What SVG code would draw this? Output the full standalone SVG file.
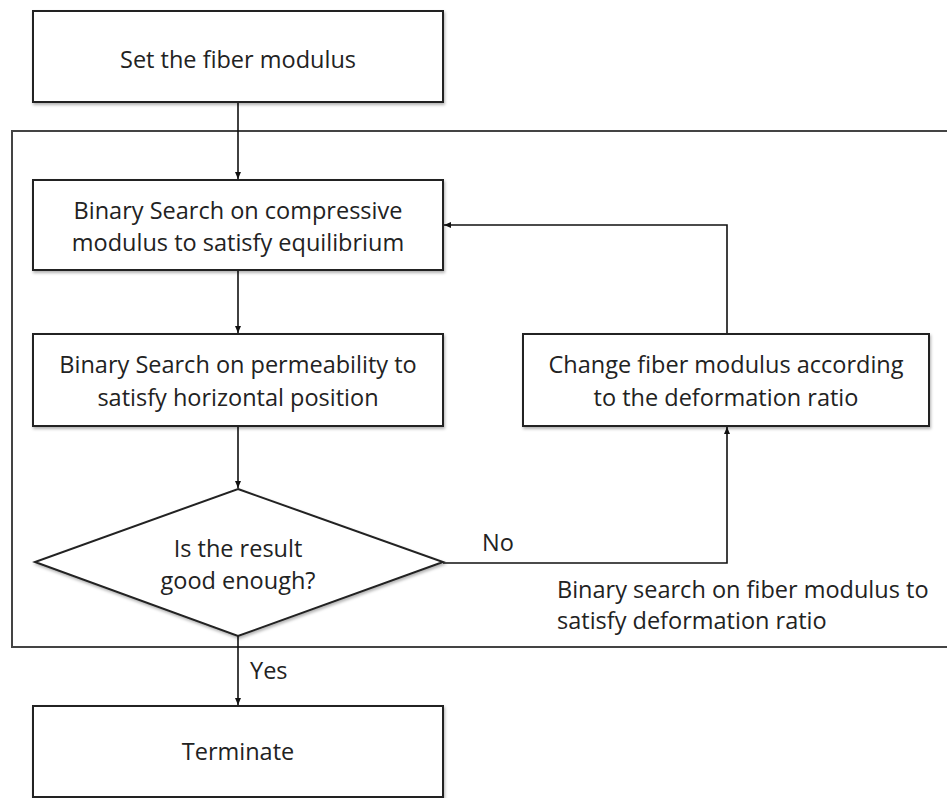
<svg xmlns="http://www.w3.org/2000/svg" width="947" height="798" viewBox="0 0 947 798">
<defs>
<marker id="arr" markerWidth="8" markerHeight="8" refX="7" refY="4" orient="auto" markerUnits="userSpaceOnUse">
<path d="M0,1 L7,4 L0,7 Z" fill="#111"/>
</marker>
<filter id="sh" x="-5%" y="-5%" width="110%" height="115%">
<feDropShadow dx="1" dy="2" stdDeviation="1.5" flood-color="#000" flood-opacity="0.3"/>
</filter>
<style>
.box{fill:#fff;stroke:#222;stroke-width:2;filter:url(#sh);}
.t{font-family:"Open Sans","Liberation Sans",sans-serif;font-size:23.5px;fill:#222;text-anchor:middle;}
.l{font-family:"Open Sans","Liberation Sans",sans-serif;font-size:23.5px;fill:#222;}
.c{fill:none;stroke:#111;stroke-width:1.6;}
.frame{fill:none;stroke:#444;stroke-width:2;}
</style>
</defs>
<rect width="947" height="798" fill="#fff"/>
<path class="frame" d="M948,131 H12 V647 H948"/>
<g id="connectors">
<path class="c" d="M238,102 V179" marker-end="url(#arr)"/>
<path class="c" d="M238,270 V333" marker-end="url(#arr)"/>
<path class="c" d="M238,426 V488" marker-end="url(#arr)"/>
<path class="c" d="M443,563 H727 V427" marker-end="url(#arr)"/>
<path class="c" d="M727,334 V225 H444" marker-end="url(#arr)"/>
<path class="c" d="M238,636 V705" marker-end="url(#arr)"/>
<text class="l" x="482" y="551">No</text>
<text class="l" x="250" y="679">Yes</text>
<text class="l" x="557" y="598">Binary search on fiber modulus to</text>
<text class="l" x="557" y="629">satisfy deformation ratio</text>
</g>
<g id="n1">
<rect class="box" x="33" y="11" width="410" height="91"/>
<text class="t" x="238" y="68">Set the fiber modulus</text>
</g>
<g id="n2">
<rect class="box" x="33" y="180" width="410" height="90"/>
<text class="t" x="238" y="219">Binary Search on compressive</text>
<text class="t" x="238" y="251">modulus to satisfy equilibrium</text>
</g>
<g id="n3">
<rect class="box" x="33" y="334" width="410" height="92"/>
<text class="t" x="238" y="373">Binary Search on permeability to</text>
<text class="t" x="238" y="406">satisfy horizontal position</text>
</g>
<g id="n4">
<path class="box" d="M238,489 L443,562 L238,636 L35,562 Z"/>
<text class="t" x="238" y="557">Is the result</text>
<text class="t" x="238" y="589">good enough?</text>
</g>
<g id="n5">
<rect class="box" x="523" y="334" width="406" height="92"/>
<text class="t" x="726" y="373">Change fiber modulus according</text>
<text class="t" x="726" y="406">to the deformation ratio</text>
</g>
<g id="n6">
<rect class="box" x="33" y="706" width="410" height="91"/>
<text class="t" x="238" y="760">Terminate</text>
</g>
</svg>
